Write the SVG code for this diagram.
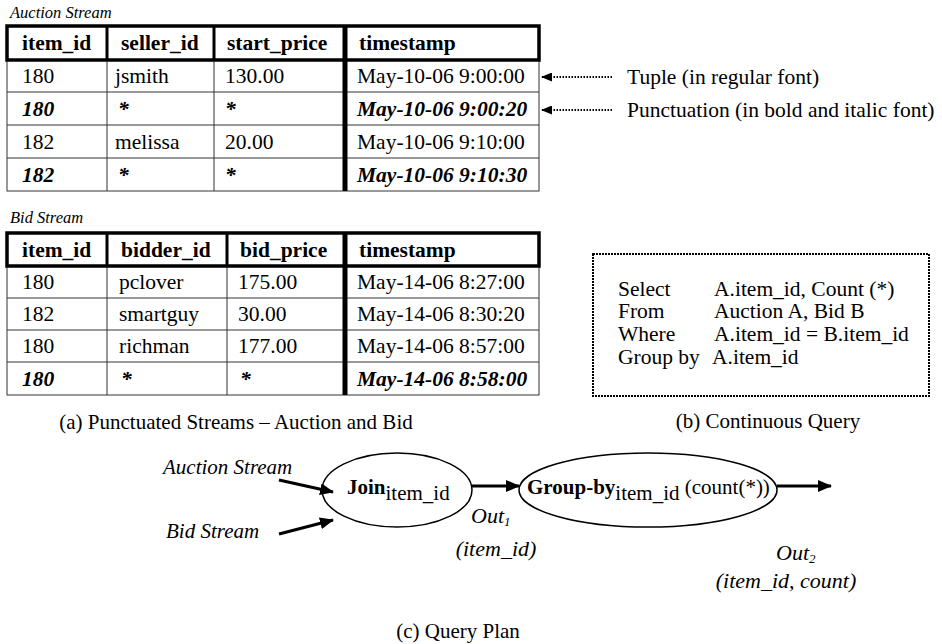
<svg xmlns="http://www.w3.org/2000/svg" width="942" height="644" viewBox="0 0 942 644">
<style>
text{font-family:"Liberation Serif","Times New Roman",serif;fill:#000}
.t{font-size:21.5px}
.h{font-size:21.5px;font-weight:bold}
.p{font-size:21.5px;font-weight:bold;font-style:italic}
.lbl{font-size:16.5px;font-style:italic}
.lc{font-size:21px;font-style:italic}
.cap{font-size:21px}
.thin{stroke:#333;stroke-width:1;fill:none}
.thick{stroke:#000;stroke-width:3.5;fill:none}
.div{stroke:#000;stroke-width:5}
.dot{stroke:#000;stroke-width:2;stroke-dasharray:1.5 1.5;fill:none}
.arr{stroke:#000;stroke-width:3;fill:none}
.ell{stroke:#000;stroke-width:1.5;fill:#fff}
.it{font-size:22px;font-style:italic}
.sub{font-size:21px}
</style>
<defs>
<marker id="ah" markerWidth="14" markerHeight="12" refX="13" refY="6" orient="auto" markerUnits="userSpaceOnUse"><path d="M0,0 L14,6 L0,12 z" fill="#000"/></marker>
<marker id="sh" markerWidth="11" markerHeight="9" refX="10" refY="4.5" orient="auto" markerUnits="userSpaceOnUse"><path d="M0,0 L11,4.5 L0,9 z" fill="#000"/></marker>
</defs>

<g id="auction-table">
<text class="lbl" x="10" y="18">Auction Stream</text>
<rect class="thin" x="7" y="60" width="532" height="131"/>
<line class="thin" x1="7" y1="92" x2="539" y2="92"/>
<line class="thin" x1="7" y1="125" x2="539" y2="125"/>
<line class="thin" x1="7" y1="158" x2="539" y2="158"/>
<line class="thin" x1="107" y1="60" x2="107" y2="191"/>
<line class="thin" x1="214" y1="60" x2="214" y2="191"/>
<rect class="thick" x="7" y="26" width="532" height="34"/>
<line class="thick" x1="107" y1="26" x2="107" y2="60" style="stroke-width:3"/>
<line class="thick" x1="214" y1="26" x2="214" y2="60" style="stroke-width:3"/>
<line class="div" x1="345" y1="26" x2="345" y2="191"/>
<text class="h" x="22" y="50">item_id</text>
<text class="h" x="121" y="50">seller_id</text>
<text class="h" x="227" y="50">start_price</text>
<text class="h" x="359" y="50">timestamp</text>
<text class="t" x="22" y="83">180</text>
<text class="t" x="115" y="83">jsmith</text>
<text class="t" x="225" y="83">130.00</text>
<text class="t" x="357" y="83">May-10-06 9:00:00</text>
<text class="p" x="22" y="116">180</text>
<text class="p" x="118" y="116">*</text>
<text class="p" x="225" y="116">*</text>
<text class="p" x="357" y="116">May-10-06 9:00:20</text>
<text class="t" x="22" y="149">182</text>
<text class="t" x="115" y="149">melissa</text>
<text class="t" x="225" y="149">20.00</text>
<text class="t" x="357" y="149">May-10-06 9:10:00</text>
<text class="p" x="22" y="182">182</text>
<text class="p" x="118" y="182">*</text>
<text class="p" x="225" y="182">*</text>
<text class="p" x="357" y="182">May-10-06 9:10:30</text>
</g>

<g id="legend-tuple">
<text class="t" x="627" y="84">Tuple (in regular font)</text>
</g>
<g id="legend-punct">
<text class="t" x="627" y="117">Punctuation (in bold and italic font)</text>
</g>

<g id="bid-table">
<text class="lbl" x="10" y="223">Bid Stream</text>
<rect class="thin" x="7" y="266" width="532" height="129"/>
<line class="thin" x1="7" y1="298" x2="539" y2="298"/>
<line class="thin" x1="7" y1="330" x2="539" y2="330"/>
<line class="thin" x1="7" y1="362" x2="539" y2="362"/>
<line class="thin" x1="107" y1="266" x2="107" y2="395"/>
<line class="thin" x1="227" y1="266" x2="227" y2="395"/>
<rect class="thick" x="7" y="233" width="532" height="33"/>
<line class="thick" x1="107" y1="233" x2="107" y2="266" style="stroke-width:3"/>
<line class="thick" x1="227" y1="233" x2="227" y2="266" style="stroke-width:3"/>
<line class="div" x1="345" y1="233" x2="345" y2="395"/>
<text class="h" x="22" y="257">item_id</text>
<text class="h" x="121" y="257">bidder_id</text>
<text class="h" x="240" y="257">bid_price</text>
<text class="h" x="359" y="257">timestamp</text>
<text class="t" x="22" y="289">180</text>
<text class="t" x="119" y="289">pclover</text>
<text class="t" x="238" y="289">175.00</text>
<text class="t" x="357" y="289">May-14-06 8:27:00</text>
<text class="t" x="22" y="321">182</text>
<text class="t" x="119" y="321">smartguy</text>
<text class="t" x="238" y="321">30.00</text>
<text class="t" x="357" y="321">May-14-06 8:30:20</text>
<text class="t" x="22" y="353">180</text>
<text class="t" x="119" y="353">richman</text>
<text class="t" x="238" y="353">177.00</text>
<text class="t" x="357" y="353">May-14-06 8:57:00</text>
<text class="p" x="22" y="386">180</text>
<text class="p" x="121" y="386">*</text>
<text class="p" x="240" y="386">*</text>
<text class="p" x="357" y="386">May-14-06 8:58:00</text>
</g>
<text class="cap" x="236" y="429" text-anchor="middle">(a) Punctuated Streams – Auction and Bid</text>

<g id="query">
<rect x="593" y="254" width="336" height="142" fill="none" stroke="#000" stroke-width="2" stroke-dasharray="2 1"/>
<text class="t" x="618" y="296">Select</text><text class="t" x="714" y="296">A.item_id, Count (*)</text>
<text class="t" x="618" y="318">From</text><text class="t" x="714" y="318">Auction A, Bid B</text>
<text class="t" x="618" y="341">Where</text><text class="t" x="714" y="341">A.item_id = B.item_id</text>
<text class="t" x="618" y="364">Group by</text><text class="t" x="712" y="364">A.item_id</text>
</g>
<text class="cap" x="768" y="428" text-anchor="middle">(b) Continuous Query</text>

<g id="join">
<ellipse class="ell" cx="397" cy="490" rx="75" ry="37"/>
<text x="347" y="494"><tspan class="h" style="font-size:21px">Join</tspan><tspan class="sub" dy="6">item_id</tspan></text>
</g>
<g id="groupby">
<ellipse class="ell" cx="648" cy="490" rx="129" ry="37"/>
<text x="527" y="494"><tspan class="h" style="font-size:21px">Group-by</tspan><tspan class="sub" dy="6">item_id</tspan><tspan class="sub" dy="-6"> (count(*))</tspan></text>
</g>
<g id="labels-c">
<text class="lc" x="163" y="474">Auction Stream</text>
<text class="lc" x="166" y="538">Bid Stream</text>
<text class="it" x="471" y="523">Out<tspan font-size="13" dy="3">1</tspan></text>
<text class="it" x="496" y="556" text-anchor="middle">(item_id)</text>
<text class="it" x="776" y="560">Out<tspan font-size="13" dy="3">2</tspan></text>
<text class="it" x="786" y="588" text-anchor="middle">(item_id, count)</text>
</g>
<text class="cap" x="458" y="638" text-anchor="middle">(c) Query Plan</text>

<g id="connectors">
<line class="dot" x1="612" y1="77" x2="542" y2="77" marker-end="url(#sh)"/>
<line class="dot" x1="612" y1="110" x2="542" y2="110" marker-end="url(#sh)"/>
<line class="arr" x1="279" y1="480" x2="333" y2="492" marker-end="url(#ah)"/>
<line class="arr" x1="279" y1="534" x2="333" y2="520" marker-end="url(#ah)"/>
<line class="arr" x1="472" y1="486" x2="519" y2="486" marker-end="url(#ah)"/>
<line class="arr" x1="777" y1="486" x2="831" y2="486" marker-end="url(#ah)"/>
</g>
</svg>
